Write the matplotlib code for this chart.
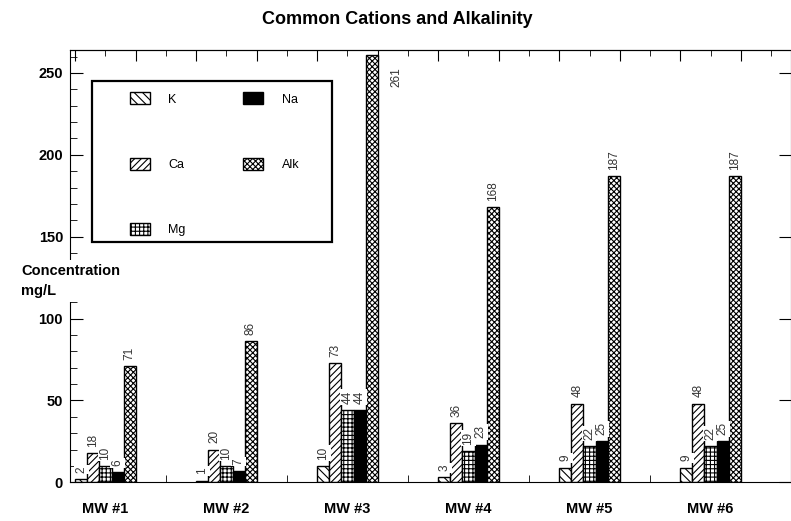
import numpy as np
import matplotlib
matplotlib.use("Agg")
import matplotlib.pyplot as plt
from matplotlib.patches import Rectangle

plt.rcParams['font.family'] = ['Liberation Sans', 'DejaVu Sans']
plt.rcParams['hatch.linewidth'] = 0.8

# Data (mg/L)
wells = ['MW #1', 'MW #2', 'MW #3', 'MW #4', 'MW #5', 'MW #6']
series = ['K', 'Ca', 'Mg', 'Na', 'Alk']
k_vals = [2, 1, 10, 3, 9, 9]
ca_vals = [18, 20, 73, 36, 48, 48]
mg_vals = [10, 10, 44, 19, 22, 22]
na_vals = [6, 7, 44, 23, 25, 25]
alk_vals = [71, 86, 261, 168, 187, 187]

values = [k_vals, ca_vals, mg_vals, na_vals, alk_vals]
hatches = ['\\\\\\\\', '/////', '++++', None, 'xxxxxx']
faces = ['white', 'white', 'white', 'black', 'white']

fig = plt.figure(figsize=(7.91, 5.21), dpi=100)
ax = fig.add_axes([70 / 791, 38.7 / 521, 721 / 791, 432.3 / 521])

x = np.arange(len(wells))
width = 0.1
ymax = 264

for i, (name, vals) in enumerate(zip(series, values)):
    xs = x + (i - 2) * width
    ax.bar(xs, vals, width, color=faces[i], edgecolor='black', hatch=hatches[i],
           linewidth=1, label=name, zorder=2)
    for xi, v in zip(xs, vals):
        if v + 20 > ymax:
            off, va = (18, -9), 'top'
        else:
            off, va = (0, 4.5), 'bottom'
        ax.annotate(str(v), (xi, v), xytext=off, textcoords='offset points',
                    rotation=90, ha='center', va=va, fontsize=8.5, color='#333333',
                    bbox=dict(fc='white', ec='none', pad=1), zorder=3)

ax.set_xlim(-0.293, 5.665)
ax.set_ylim(0, ymax)

# bottom axis: group names, small separators between wells
ax.set_xticks(x)
ax.set_xticklabels(wells, fontweight='bold', fontsize=10.5)
ax.set_xticks(x[:-1] + 0.5, minor=True)
ax.tick_params(axis='x', which='major', length=0, pad=14)
ax.tick_params(axis='x', which='minor', direction='in', length=5)

# left axis
ax.set_yticks(np.arange(0, 251, 50))
ax.set_yticks(np.arange(0, 261, 10), minor=True)
ax.tick_params(axis='y', which='major', direction='in', length=9, pad=5,
               labelsize=10.5, right=True)
ax.tick_params(axis='y', which='minor', direction='in', length=5, right=False)
for lab in ax.get_yticklabels():
    lab.set_fontweight('bold')

# top axis ticks
top = ax.secondary_xaxis('top')
top.set_xticks(np.arange(-0.25, 5.7, 0.5))
top.set_xticks(np.arange(0, 5.7, 0.5), minor=True)
top.set_xticklabels([])
top.tick_params(which='major', direction='in', length=8)
top.tick_params(which='minor', direction='in', length=4)

# legend in a hand-drawn box
ax.add_patch(Rectangle((0.0305, 0.557), 0.333, 0.371, transform=ax.transAxes,
                       fill=False, edgecolor='black', linewidth=1.6, zorder=4))
leg = ax.legend(ncol=2, loc='upper left', bbox_to_anchor=(0.067, 0.928),
                frameon=False, fontsize=9, handlelength=1.6, handleheight=1.1,
                handletextpad=1.5, columnspacing=4.6, labelspacing=4.15)

ax.text(-0.068, 0.466, 'Concentration\nmg/L', transform=ax.transAxes, ha='left',
        va='center', fontsize=10.5, fontweight='bold', linespacing=1.5,
        bbox=dict(fc='white', ec='none', pad=3), clip_on=False, zorder=5)

fig.text(397 / 791, 1 - 20 / 521, 'Common Cations and Alkalinity', ha='center',
         va='center', fontsize=13, fontweight='bold')

fig.savefig('out.png', dpi=100)
